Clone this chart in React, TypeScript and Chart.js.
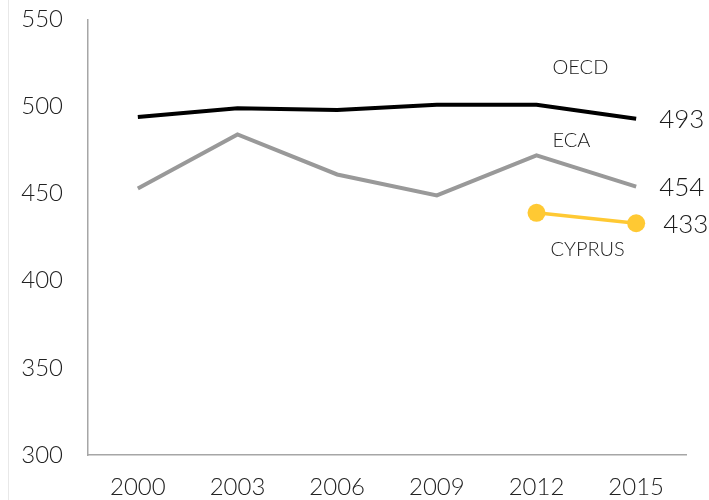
import React, { useEffect, useRef } from "react";
import { Chart, registerables } from "chart.js";

Chart.register(...registerables);

const years = ["2000", "2003", "2006", "2009", "2012", "2015"];
const oecd = [494, 499, 498, 501, 501, 493];
const eca = [453, 484, 461, 449, 472, 454];
const cyprus = [null, null, null, null, 439, 433];
const seriesNames = ["OECD", "ECA", "CYPRUS"];
const endLabels = ["493", "454", "433"];
const nameAnchorValues = [522.5, 480.5, 418];
const yMin = 300;
const yMax = 550;
const yStep = 50;

const FONT = "Lato, 'Open Sans', sans-serif";

const labelPlugin = {
  id: "seriesLabels",
  afterDatasetsDraw(chart: any) {
    const { ctx, scales } = chart;
    const x = scales.x;
    const y = scales.y;
    ctx.save();
    ctx.fillStyle = "#1a1a1a";
    ctx.font = `300 26px ${FONT}`;
    ctx.textAlign = "left";
    ctx.textBaseline = "middle";
    chart.data.datasets.forEach((ds: any, i: number) => {
      const meta = chart.getDatasetMeta(i);
      const last = meta.data[meta.data.length - 1];
      const extra = i === 2 ? 27 : 23;
      ctx.fillText(endLabels[i], last.x + extra, last.y + 1);
    });
    ctx.font = `300 20px ${FONT}`;
    const baseX = x.getPixelForValue(4);
    seriesNames.forEach((name, i) => {
      ctx.fillText(name, baseX + (i === 2 ? 14 : 16), y.getPixelForValue(nameAnchorValues[i]));
    });
    ctx.restore();
  },
};

export default function App() {
  const ref = useRef<HTMLCanvasElement | null>(null);
  useEffect(() => {
    if (!ref.current) return;
    const tickFont = { family: FONT, size: 24, weight: "300" as any };
    const chart = new Chart(ref.current, {
      type: "line",
      data: {
        labels: years,
        datasets: [
          {
            label: seriesNames[0],
            data: oecd,
            borderColor: "#000000",
            borderWidth: 4,
            pointRadius: 0,
            tension: 0,
          },
          {
            label: seriesNames[1],
            data: eca,
            borderColor: "#999999",
            borderWidth: 4,
            pointRadius: 0,
            tension: 0,
          },
          {
            label: seriesNames[2],
            data: cyprus,
            borderColor: "#FFC933",
            backgroundColor: "#FFC933",
            pointBackgroundColor: "#FFC933",
            pointBorderWidth: 0,
            borderWidth: 3.5,
            pointRadius: 9,
            tension: 0,
          },
        ],
      },
      options: {
        responsive: false,
        animation: false,
        layout: { padding: { top: 0, right: 23, left: 0, bottom: 0 } },
        plugins: {
          legend: { display: false },
          tooltip: { enabled: false },
        },
        scales: {
          x: {
            type: "category",
            offset: true,
            grid: { display: false, drawTicks: false },
            border: { display: true, color: "#a6a6a6", width: 1.5 },
            ticks: { font: tickFont, color: "#222222", padding: 18, maxRotation: 0 },
            afterFit: (s: any) => {
              s.height = 45;
            },
          },
          y: {
            min: yMin,
            max: yMax,
            grid: { display: false, drawTicks: false },
            border: { display: true, color: "#a6a6a6", width: 1.5 },
            ticks: { stepSize: yStep, font: tickFont, color: "#222222", padding: 25 },
            afterFit: (s: any) => {
              s.width = 88;
            },
          },
        },
      },
      plugins: [labelPlugin],
    });
    return () => chart.destroy();
  }, []);

  return (
    <div style={{ position: "fixed", left: 0, top: 0, width: 709, height: 500, background: "#fff", overflow: "hidden" }}>
      <div style={{ position: "absolute", left: 8, top: 0, width: 1, height: 500, background: "#e8e8e8" }} />
      <canvas ref={ref} width={709} height={520} style={{ position: "absolute", left: 0, top: -20, width: 709, height: 520 }} />
    </div>
  );
}
